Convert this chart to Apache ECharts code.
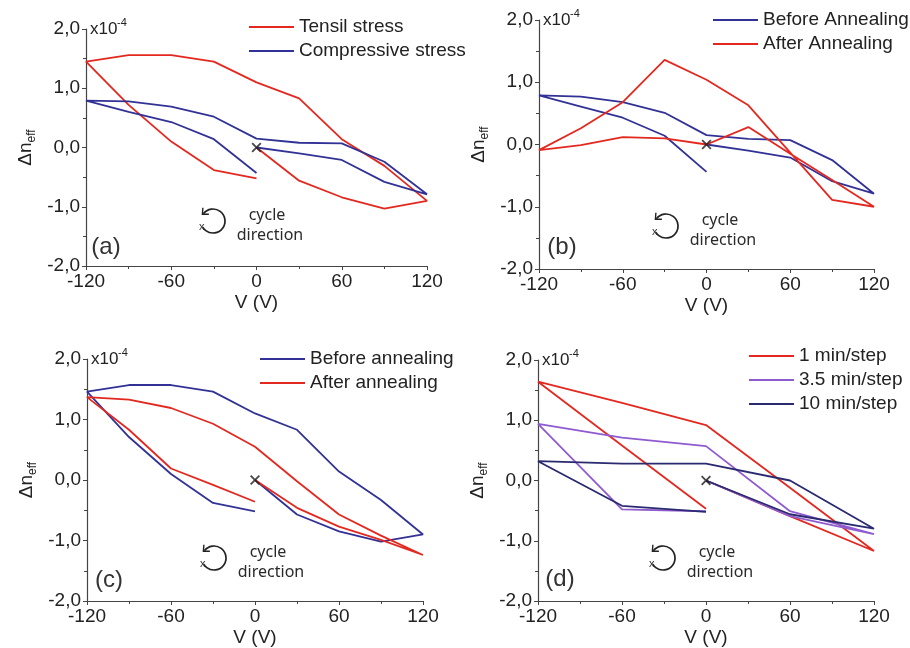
<!DOCTYPE html>
<html>
<head>
<meta charset="utf-8">
<script src="https://cdn.jsdelivr.net/npm/echarts@6/dist/echarts.min.js"></script>
<style>
html, body { margin: 0; padding: 0; background: #fff; }
#chart { width: 910px; height: 648px; }
</style>
</head>
<body>
<div id="chart"></div>
<script>
// voltage sweep 0 -> 120 -> -120 -> 0 (V), 30 V steps
const voltSweep = [0, 30, 60, 90, 120, 90, 60, 30, 0, -30, -60, -90, -120, -90, -60, -30, 0];
// panel (d) sweep, 60 V steps
const voltSweepD = [0, 60, 120, 60, 0, -60, -120, -60, 0];

// Δn_eff, units of 1e-4
// (a)
const tensilStress = [0, -0.56, -0.84, -1.03, -0.90, -0.31, 0.14, 0.83, 1.10, 1.45, 1.56, 1.56, 1.45, 0.72, 0.10, -0.38, -0.52];
const compressiveStress = [0, -0.10, -0.21, -0.58, -0.79, -0.24, 0.07, 0.08, 0.15, 0.52, 0.69, 0.78, 0.79, 0.60, 0.43, 0.14, -0.43];
// (b)
const beforeAnnealB = [0, -0.10, -0.21, -0.59, -0.79, -0.25, 0.07, 0.09, 0.15, 0.51, 0.68, 0.77, 0.79, 0.61, 0.43, 0.14, -0.44];
const afterAnnealB = [0, 0.28, -0.15, -0.57, -1.00, -0.89, -0.13, 0.63, 1.04, 1.36, 0.68, 0.26, -0.09, -0.01, 0.12, 0.10, 0];
// (c)
const beforeAnnealC = [0, -0.57, -0.85, -1.02, -0.90, -0.33, 0.14, 0.83, 1.10, 1.46, 1.57, 1.57, 1.46, 0.71, 0.10, -0.38, -0.52];
const afterAnnealC = [0, -0.46, -0.77, -0.99, -1.24, -0.92, -0.57, -0.02, 0.55, 0.93, 1.19, 1.33, 1.37, 0.83, 0.19, -0.08, -0.36];
// (d)
const step1min = [0, -0.59, -1.17, -0.12, 0.92, 1.29, 1.64, 0.58, -0.47];
const step35min = [0, -0.59, -0.89, -0.51, 0.57, 0.71, 0.94, -0.48, -0.51];
const step10min = [0, -0.56, -0.80, 0.00, 0.28, 0.28, 0.32, -0.42, -0.52];

const xTicks = { min: -120, max: 120, interval: 60 };
const yTicks = { min: -2, max: 2, interval: 1 };

const RED = '#e3281f';
const BLUE = '#323296';
const PURPLE = '#8f5bd0';
const NAVY = '#2a2a70';

const panels = [
  {
    grid: { left: 86, top: 29, width: 341, height: 237 },
    legend: [249, 15], tag: '(a)', tagPos: [106, 247], cycle: [213, 221],
    lines: [
      { name: 'Tensil stress', x: voltSweep, y: tensilStress, color: RED },
      { name: 'Compressive stress', x: voltSweep, y: compressiveStress, color: BLUE }
    ]
  },
  {
    grid: { left: 539, top: 20, width: 335, height: 249 },
    legend: [713, 8], tag: '(b)', tagPos: [562, 247], cycle: [666, 226],
    lines: [
      { name: 'Before Annealing', x: voltSweep, y: beforeAnnealB, color: BLUE },
      { name: 'After Annealing', x: voltSweep, y: afterAnnealB, color: RED }
    ]
  },
  {
    grid: { left: 87, top: 359, width: 336, height: 242 },
    legend: [260, 347], tag: '(c)', tagPos: [109, 580], cycle: [214, 558],
    lines: [
      { name: 'Before annealing', x: voltSweep, y: beforeAnnealC, color: BLUE },
      { name: 'After annealing', x: voltSweep, y: afterAnnealC, color: RED }
    ]
  },
  {
    grid: { left: 538, top: 360, width: 336, height: 242 },
    legend: [749, 344], tag: '(d)', tagPos: [560, 579], cycle: [663, 558],
    lines: [
      { name: '1 min/step', x: voltSweepD, y: step1min, color: RED },
      { name: '3.5 min/step', x: voltSweepD, y: step35min, color: PURPLE },
      { name: '10 min/step', x: voltSweepD, y: step10min, color: NAVY }
    ]
  }
];

const FONT = 'Liberation Sans';
const axisColor = '#444';

const grids = [], xAxes = [], yAxes = [], series = [], legends = [], graphics = [];

panels.forEach((p, i) => {
  grids.push(p.grid);
  xAxes.push({
    type: 'value', gridIndex: i,
    min: xTicks.min, max: xTicks.max, interval: xTicks.interval,
    name: 'V (V)', nameLocation: 'middle', nameGap: 27,
    nameTextStyle: { fontFamily: FONT, fontSize: 19, color: '#222' },
    axisLine: { show: true, onZero: false, lineStyle: { color: axisColor, width: 1.2 } },
    axisTick: { show: true, length: 4, lineStyle: { color: axisColor } },
    minorTick: { show: true, splitNumber: 2, length: 3, lineStyle: { color: axisColor } },
    splitLine: { show: false },
    axisLabel: { fontFamily: FONT, fontSize: 19, color: '#222', margin: 6 }
  });
  yAxes.push({
    type: 'value', gridIndex: i,
    min: yTicks.min, max: yTicks.max, interval: yTicks.interval,
    name: '{a|Δn}{b|eff}', nameLocation: 'middle', nameGap: 48,
    nameTextStyle: {
      rich: {
        a: { fontFamily: FONT, fontSize: 19, color: '#222', lineHeight: 24 },
        b: { fontFamily: FONT, fontSize: 12, color: '#222', verticalAlign: 'bottom' }
      }
    },
    axisLine: { show: true, onZero: false, lineStyle: { color: axisColor, width: 1.2 } },
    axisTick: { show: true, length: 4, lineStyle: { color: axisColor } },
    minorTick: { show: true, splitNumber: 2, length: 3, lineStyle: { color: axisColor } },
    splitLine: { show: false },
    axisLabel: {
      fontFamily: FONT, fontSize: 19, color: '#222', margin: 6,
      formatter: v => v.toFixed(1).replace('.', ',')
    }
  });

  p.lines.forEach(l => {
    series.push({
      name: l.name, type: 'line', xAxisIndex: i, yAxisIndex: i,
      data: l.x.map((v, k) => [v, l.y[k]]),
      symbol: 'none', color: l.color,
      lineStyle: { width: 1.8, color: l.color },
      animation: false
    });
  });
  // start point marker
  series.push({
    name: 'start', type: 'scatter', xAxisIndex: i, yAxisIndex: i,
    data: [[0, 0]],
    symbol: 'path://M0,1.3L1.3,0L5,3.7L8.7,0L10,1.3L6.3,5L10,8.7L8.7,10L5,6.3L1.3,10L0,8.7L3.7,5Z',
    symbolSize: 10, itemStyle: { color: '#1a1a1a' }, z: 5, silent: true, animation: false
  });

  legends.push({
    left: p.legend[0], top: p.legend[1], orient: 'vertical',
    icon: 'rect', itemWidth: 45, itemHeight: 2, itemGap: 0, padding: 0,
    data: p.lines.map(l => l.name),
    textStyle: { fontFamily: FONT, fontSize: 19, color: '#222', lineHeight: 24 }
  });

  // x10^-4 multiplier
  graphics.push({
    type: 'text', left: p.grid.left + 4, top: p.grid.top - 8,
    style: { text: 'x10', fontFamily: FONT, fontSize: 17, fill: '#222' }
  });
  graphics.push({
    type: 'text', left: p.grid.left + 31, top: p.grid.top - 12,
    style: { text: '-4', fontFamily: FONT, fontSize: 11, fill: '#222' }
  });
  // panel tag
  graphics.push({
    type: 'text', x: p.tagPos[0], y: p.tagPos[1],
    style: { text: p.tag, fontFamily: FONT, fontSize: 24, fill: '#333', align: 'center', verticalAlign: 'middle' }
  });
  // cycle direction icon
  const cx = p.cycle[0], cy = p.cycle[1], r = 12;
  const a0 = -2.5, a1 = 2.6;
  const tx = cx + r * Math.cos(a0), ty = cy + r * Math.sin(a0);
  graphics.push({
    type: 'arc', shape: { cx: cx, cy: cy, r: r, startAngle: a0, endAngle: a1, clockwise: true },
    style: { stroke: '#222', lineWidth: 1.7, fill: null }
  });
  graphics.push({
    type: 'polyline', shape: { points: [[tx - 0.5, ty - 6], [tx - 1, ty + 0.5], [tx + 5.5, ty + 0.5]] },
    style: { stroke: '#222', lineWidth: 1.4, fill: null }
  });
  graphics.push({
    type: 'text', x: cx + r * Math.cos(a1) - 1, y: cy + r * Math.sin(a1),
    style: { text: 'x', fontFamily: FONT, fontSize: 11, fill: '#333', align: 'center', verticalAlign: 'middle' }
  });
  graphics.push({
    type: 'text', x: cx + 54, y: cy - 6,
    style: { text: 'cycle', fontFamily: 'Noto Sans', fontSize: 16, fill: '#2a2a2a', align: 'center', verticalAlign: 'middle' }
  });
  graphics.push({
    type: 'text', x: cx + 57, y: cy + 14,
    style: { text: 'direction', fontFamily: 'Noto Sans', fontSize: 16, fill: '#2a2a2a', align: 'center', verticalAlign: 'middle' }
  });
});

const chart = echarts.init(document.getElementById('chart'));
chart.setOption({
  backgroundColor: '#fff',
  animation: false,
  grid: grids,
  xAxis: xAxes,
  yAxis: yAxes,
  legend: legends,
  series: series,
  graphic: graphics
});
</script>
</body>
</html>
